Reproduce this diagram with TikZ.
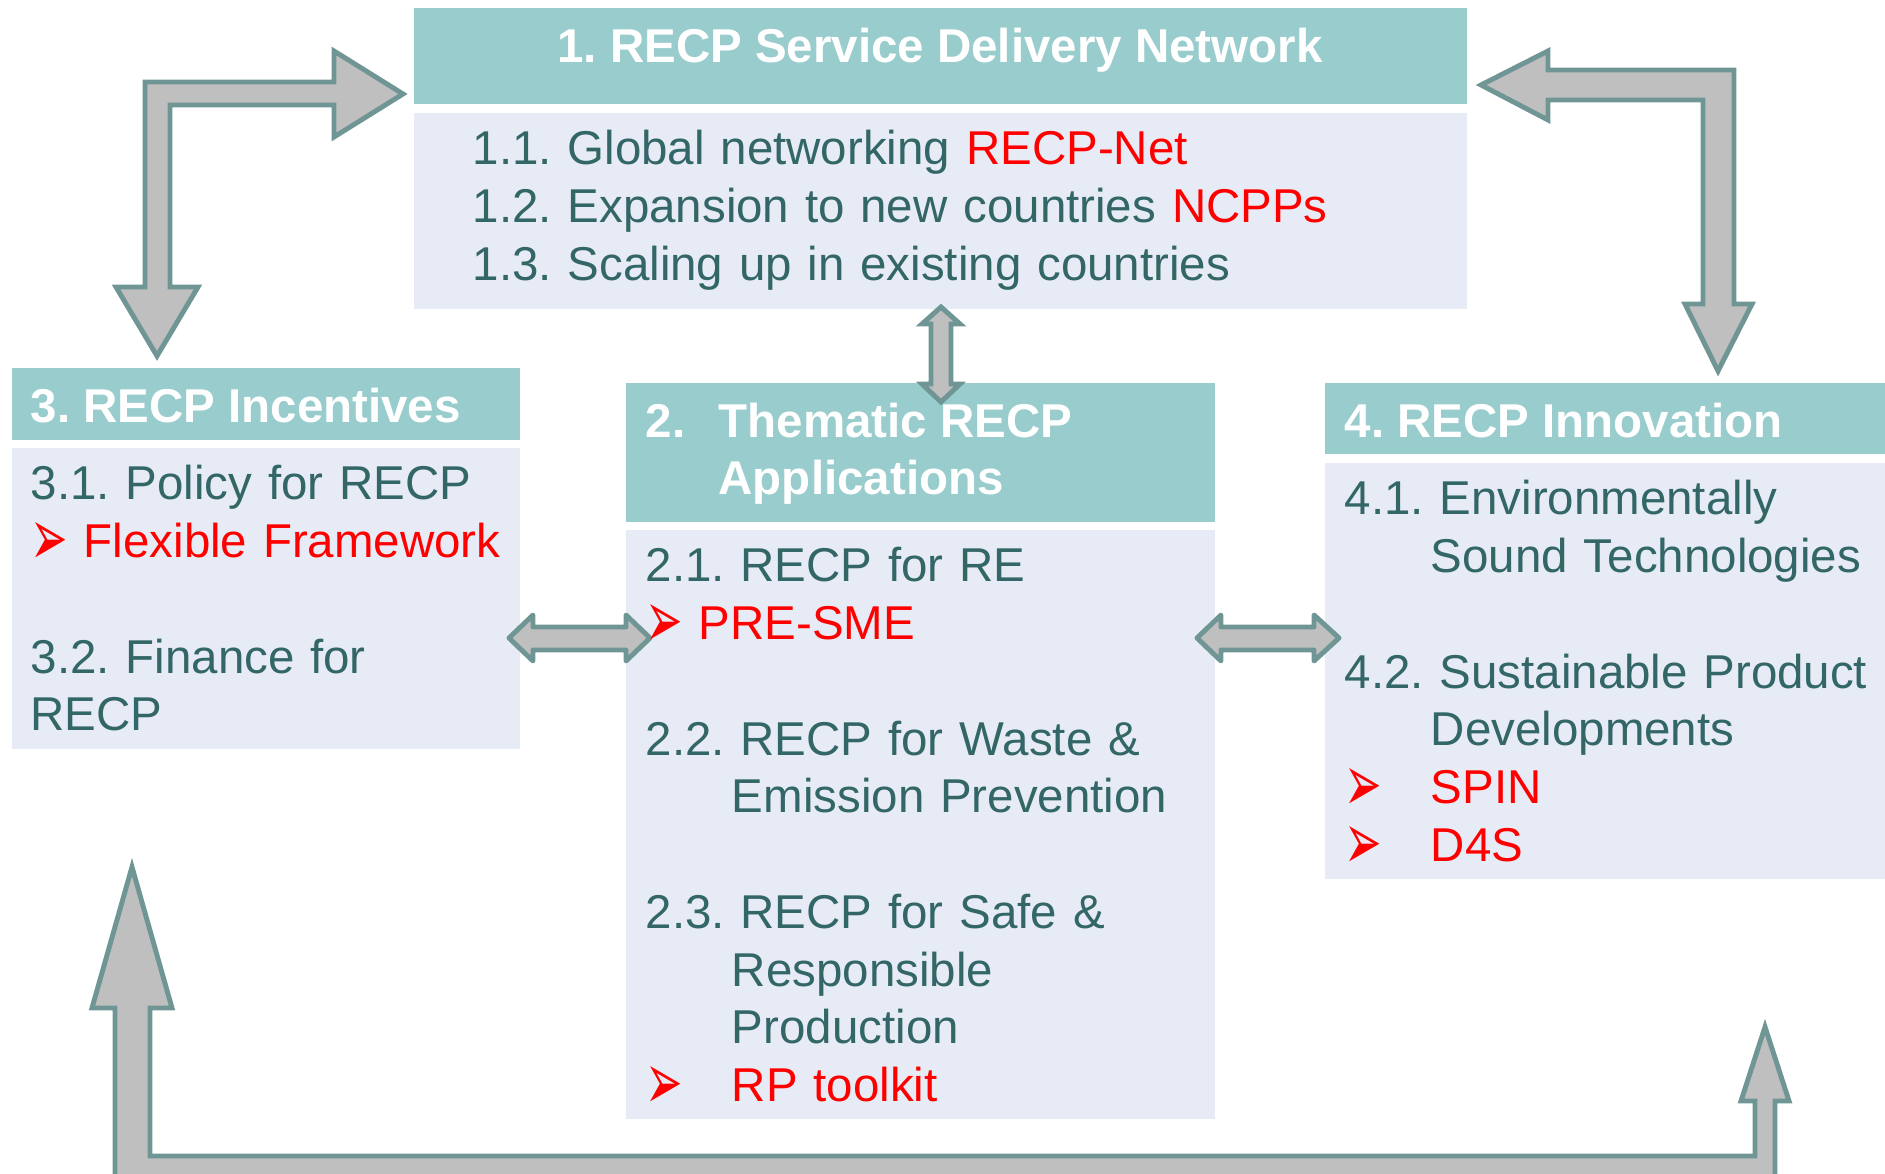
\documentclass[tikz,border=0pt]{standalone}
\usepackage{graphicx}
\usepackage{fontspec}
\setmainfont{Liberation Sans}
\newfontfamily\dingfont{DejaVu Sans}
\usetikzlibrary{fit}
\frenchspacing

\definecolor{hdrteal}{RGB}{153,204,204}
\definecolor{bodyblue}{RGB}{231,235,245}
\definecolor{txtteal}{RGB}{51,102,102}
\definecolor{arrgray}{RGB}{191,191,191}
\definecolor{arredge}{RGB}{111,150,148}

\newcommand{\bul}{\raisebox{-2.2pt}{\scalebox{0.75}[1.35]{\dingfont\fontsize{17}{17}\selectfont\textcolor{red}{➢}}}}
\newcommand{\ind}{\hspace*{24.5pt}}
\newcommand{\hi}[1]{\textcolor{red}{#1}}

\begin{document}
\begin{tikzpicture}[x=0.01cm,y=-0.01cm,
  hdr/.style={fill=hdrteal,inner sep=0,draw=none},
  body/.style={fill=bodyblue,inner sep=0,draw=none},
  htxt/.style={anchor=base west,inner sep=0,text=white,font=\fontsize{13.5}{16.42}\selectfont\bfseries},
  btxt/.style={anchor=base west,inner sep=0,text=txtteal,text width=#1,align=left,font=\fontsize{13.5}{16.42}\selectfont},
  blockarr/.style={fill=arrgray,draw=arredge,line width=1.4pt,line join=miter}]

\useasboundingbox (0,0) rectangle (1885,1174);
\clip (0,0) rectangle (1885,1174);

% boxes
\node [hdr, fit={(414,8) (1467,104)}] (h1) {};
\node [body, fit={(414,113) (1467,309)}] (b1) {};
\node [hdr, fit={(12,368) (520,440)}] (h3) {};
\node [body, fit={(12,448) (520,749)}] (b3) {};
\node [hdr, fit={(626,383) (1215,522)}] (h2) {};
\node [body, fit={(626,530) (1215,1119)}] (b2) {};
\node [hdr, fit={(1325,383) (1885,454)}] (h4) {};
\node [body, fit={(1325,463) (1885,879)}] (b4) {};

% block arrows
\draw [blockarr] (145,82) -- (334,82) -- (334,51) -- (403,94) -- (334,137) -- (334,105)
  -- (170,105) -- (170,287) -- (198,287) -- (157,356) -- (116,287) -- (145,287) -- cycle;
\draw [blockarr] (1481,85) -- (1548,51) -- (1548,70) -- (1734,70) -- (1734,304) -- (1752,304)
  -- (1718,371) -- (1685,304) -- (1703,304) -- (1703,100) -- (1548,100) -- (1548,120) -- cycle;
\draw [blockarr,line join=round] (509,638) -- (533,615) -- (533,627) -- (626,627) -- (626,615)
  -- (650,638) -- (626,661) -- (626,650) -- (533,650) -- (533,661) -- cycle;
\draw [blockarr,line join=round] (1197,638) -- (1221,615) -- (1221,627) -- (1314,627) -- (1314,615)
  -- (1339,638) -- (1314,661) -- (1314,650) -- (1221,650) -- (1221,661) -- cycle;
\draw [blockarr] (941,307) -- (960,324) -- (951,324) -- (951,384) -- (960,384) -- (941,402)
  -- (922,384) -- (931,384) -- (931,324) -- (922,324) -- cycle;
\draw [blockarr] (132,867) -- (172,1008) -- (150,1008) -- (150,1156) -- (1755,1156) -- (1755,1101)
  -- (1741,1101) -- (1765,1027) -- (1789,1101) -- (1775,1101) -- (1775,1190) -- (115,1190)
  -- (115,1008) -- (92,1008) -- cycle;

% headings
\node [htxt, anchor=base] (t1) at (940,63) {1. RECP Service Delivery Network};
\node [htxt] (t3) at (30,423) {3. RECP Incentives};
\node [htxt] (t2n) at (645,438) {2.};
\node [htxt] (t2a) at (718,438) {Thematic RECP};
\node [htxt] (t2b) at (718,495) {Applications};
\node [htxt] (t4) at (1344,438) {4. RECP Innovation};

% item lists
\node [btxt=11cm] (l1) at (472,165) {1.1. Global networking \hi{RECP-Net}\\
  1.2. Expansion to new countries \hi{NCPPs}\\
  1.3. Scaling up in existing countries};
\node [btxt=4.8cm] (l3) at (30,500) {3.1. Policy for RECP\\
  \makebox[15.1pt][l]{\bul}\hi{Flexible Framework}\\[16.42pt]
  3.2. Finance for\\
  RECP};
\node [btxt=5.6cm] (l2) at (645,582) {2.1. RECP for RE\\
  \makebox[15.1pt][l]{\bul}\hi{PRE-SME}\\[16.42pt]
  2.2. RECP for Waste \&\\
  \ind Emission Prevention\\[16.42pt]
  2.3. RECP for Safe \&\\
  \ind Responsible\\
  \ind Production\\
  \makebox[24.5pt][l]{\bul}\hi{RP toolkit}};
\node [btxt=5.4cm] (l4) at (1344,515) {4.1. Environmentally\\
  \ind Sound Technologies\\[16.42pt]
  4.2. Sustainable Product\\
  \ind Developments\\
  \makebox[24.5pt][l]{\bul}\hi{SPIN}\\
  \makebox[24.5pt][l]{\bul}\hi{D4S}};

\end{tikzpicture}
\end{document}
